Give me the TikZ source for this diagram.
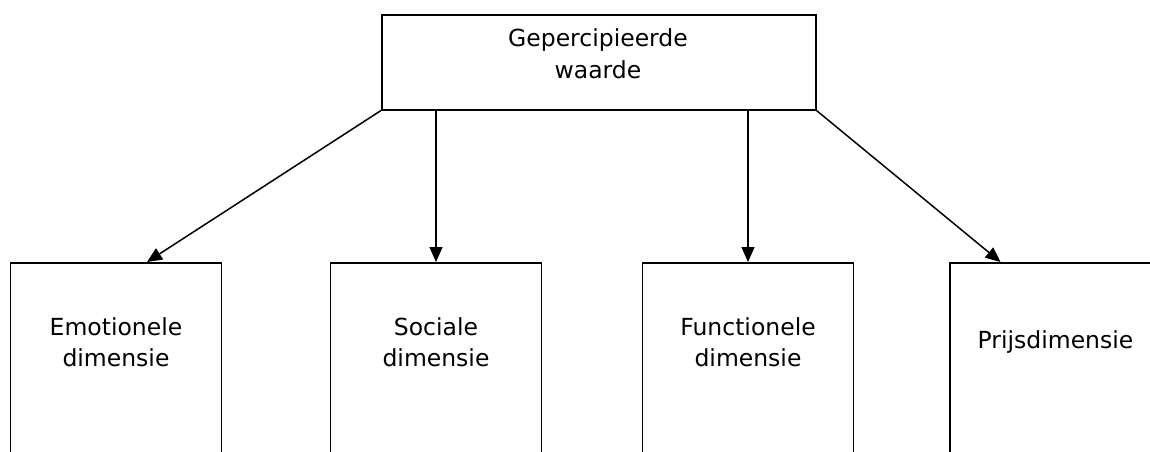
\documentclass[tikz,border=0pt]{standalone}
\usepackage{fontspec}
\setmainfont{DejaVu Sans}
\usetikzlibrary{arrows.meta,positioning}

\tikzset{
  box/.style={draw, line width=1.5pt, minimum width=211pt, minimum height=240pt, anchor=north, inner sep=0pt},
  txt/.style={font=\fontsize{23.5}{31.5}\selectfont, align=center},
  pijl/.style={line width=1.5pt, -{Triangle[length=15pt,width=13pt]}}
}

\begin{document}
\begin{tikzpicture}[x=1pt,y=-1pt]
\useasboundingbox (0,0) rectangle (1150,451);
\clip (0,0) rectangle (1150,451);
% bovenste blok
\node[draw, line width=1.5pt, minimum width=434pt, minimum height=95pt, anchor=north west, inner sep=0pt] (waarde) at (381,14) {};
\node[txt] (waardetxt) at (598,53.5) {Gepercipieerde\\waarde};
% dimensies
\foreach \naam/\x/\tekst in {emo/116/{Emotionele\\dimensie}, soc/436/{Sociale\\dimensie}, func/748/{Functionele\\dimensie}, prijs/1055.5/{Prijsdimensie}}{
  \node[box] (\naam) at (\x,262) {};
  \node[txt] (\naam txt) at (\x,342) {\tekst};
}
% pijlen
\draw[pijl] (waarde.south west) -- ([xshift=31pt]emo.north);
\draw[pijl] (waarde.south -| soc.north) -- (soc.north);
\draw[pijl] (waarde.south -| func.north) -- (func.north);
\draw[pijl] (waarde.south east) -- ([xshift=-55pt]prijs.north);
\end{tikzpicture}
\end{document}
